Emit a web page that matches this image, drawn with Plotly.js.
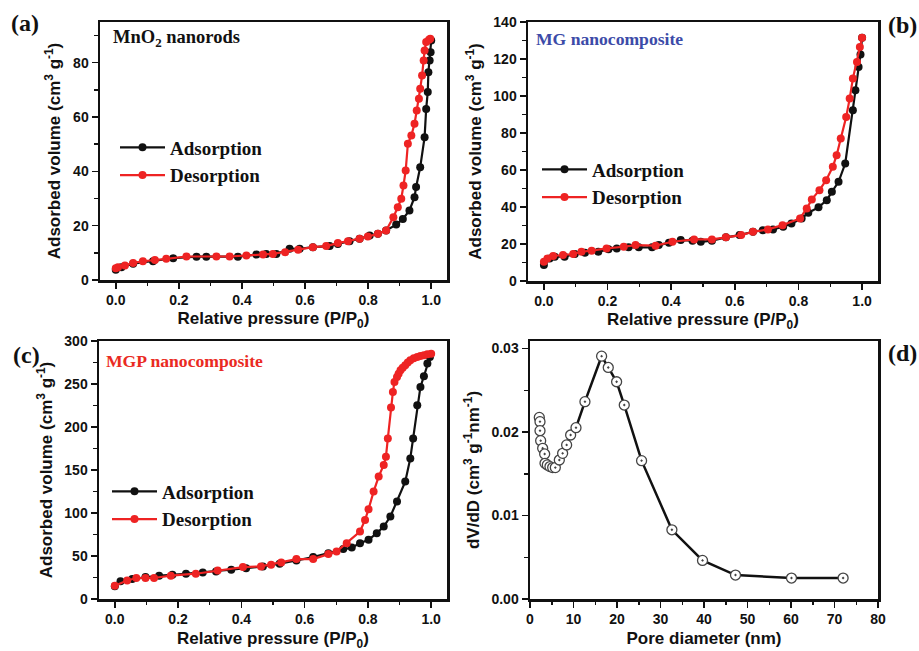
<!DOCTYPE html>
<html><head><meta charset="utf-8">
<script src="https://cdn.plot.ly/plotly-3.0.1.min.js"></script>
<style>html,body{margin:0;padding:0;background:#fff}#chart{width:919px;height:651px}</style>
</head><body><div id="chart"></div>
<script>
// Panel (a) MnO2 nanorods
const aAdsX = [0.0,0.018,0.055,0.118,0.182,0.256,0.287,0.387,0.446,0.477,0.509,0.551,0.583,0.625,0.678,0.704,0.741,0.773,0.805,0.831,0.857,0.889,0.910,0.931,0.947,0.952,0.965,0.979,0.984,0.989,0.991,0.995,0.998,1.0];
const aAdsY = [3.8,4.7,6.0,6.9,8.0,8.6,8.6,8.6,9.4,9.6,9.6,11.5,11.5,12.1,12.5,13.3,14.3,15.2,16.4,17.0,18.2,20.4,22.5,25.6,30.5,34.2,41.5,52.6,63.0,69.2,76.5,80.8,83.9,88.2];
const aDesX = [0.997,0.993,0.984,0.979,0.976,0.971,0.965,0.961,0.954,0.947,0.937,0.926,0.919,0.912,0.905,0.894,0.880,0.857,0.831,0.799,0.773,0.736,0.704,0.667,0.625,0.578,0.537,0.498,0.467,0.414,0.361,0.319,0.224,0.160,0.124,0.086,0.055,0.029,0.007,0.0];
const aDesY = [88.8,88.5,87.6,84.5,80.8,75.3,70.4,66.7,62.4,57.5,53.2,50.2,40.3,34.8,29.9,26.8,23.1,18.2,17.0,16.0,15.2,14.3,13.6,12.5,12.1,11.1,10.2,9.6,9.4,9.0,8.65,8.65,8.65,7.8,7.4,6.9,6.3,5.3,4.7,4.35];
// Panel (b) MG nanocomposite
const bAdsX = [0.0,0.018,0.034,0.065,0.097,0.129,0.171,0.203,0.229,0.266,0.298,0.340,0.361,0.393,0.430,0.467,0.493,0.528,0.572,0.615,0.657,0.688,0.720,0.752,0.778,0.810,0.831,0.863,0.889,0.905,0.926,0.947,0.971,0.979,0.989,0.995,1.0];
const bAdsY = [8.6,12.2,13.1,13.1,14.6,15.3,15.8,17.1,17.6,18.2,18.2,18.2,19.4,20.7,22.1,21.8,21.2,21.8,23.6,24.8,26.6,27.5,27.9,29.3,31.1,33.8,36.9,39.8,43.7,48.2,53.6,63.5,92.3,103.1,115.7,122.5,131.5];
const bDesX = [1.0,0.993,0.984,0.971,0.961,0.950,0.933,0.920,0.908,0.887,0.866,0.842,0.826,0.805,0.750,0.704,0.657,0.620,0.572,0.528,0.472,0.404,0.351,0.288,0.251,0.197,0.150,0.118,0.092,0.060,0.029,0.011,0.0];
const bDesY = [131.5,126.5,118.4,109.4,98.6,88.7,77.0,68.0,61.7,54.5,49.1,44.1,39.2,33.8,30.2,27.9,26.6,24.8,23.6,22.5,22.5,21.2,19.1,19.4,18.5,17.6,16.4,15.8,14.6,14.0,13.5,12.2,10.4];
// Panel (c) MGP nanocomposite
const cAdsX = [0.0,0.018,0.055,0.097,0.140,0.182,0.225,0.278,0.320,0.368,0.415,0.468,0.521,0.574,0.627,0.675,0.722,0.749,0.775,0.802,0.828,0.850,0.871,0.892,0.918,0.934,0.943,0.956,0.966,0.977,0.988,0.996];
const cAdsY = [14.7,20.5,23.2,25.5,27.1,28.2,29.4,30.9,32.1,34.0,35.9,37.9,41.0,44.8,48.7,53.3,58.0,59.9,64.9,68.8,76.5,84.3,95.9,113.3,136.5,163.5,186.7,225.4,246.6,259.0,273.7,281.4];
const cDesX = [1.0,0.988,0.977,0.966,0.956,0.945,0.934,0.926,0.918,0.910,0.903,0.897,0.892,0.884,0.879,0.873,0.863,0.857,0.850,0.834,0.818,0.802,0.791,0.775,0.733,0.701,0.675,0.627,0.574,0.526,0.494,0.462,0.405,0.325,0.256,0.177,0.124,0.097,0.068,0.039,0.0];
const cDesY = [285.3,284.5,283.3,282.5,281.4,279.8,277.5,275.0,271.7,269.0,265.9,262.0,258.2,252.4,240.8,222.7,186.7,165.4,155.8,142.3,124.9,104.4,92.0,78.5,64.9,55.3,52.2,46.4,46.4,42.5,39.8,37.9,37.1,33.2,29.4,27.1,24.4,24.4,24.4,21.6,15.5];
// Panel (d) pore size distribution
const dPoreX = [2.14,2.3,2.3,2.45,2.91,3.37,3.45,3.98,4.59,5.21,5.82,6.74,7.50,8.42,9.34,10.57,12.63,16.46,17.99,19.91,21.67,25.65,32.62,39.66,47.24,60.11,71.98];
const dPoreY = [0.02175,0.02124,0.02016,0.01896,0.01805,0.01737,0.01625,0.01606,0.01586,0.01574,0.01574,0.01665,0.01745,0.01845,0.01964,0.02052,0.02363,0.02908,0.02773,0.02602,0.02323,0.01657,0.00829,0.00462,0.00287,0.00251,0.00251];

const seriesNames = ['Adsorption','Desorption'];
const panelLabels = ['(a)','(b)','(c)','(d)'];
const sampleNames = ['MnO<sub>2</sub> nanorods','MG nanocomposite','MGP nanocomposite'];
const isoXTitle = 'Relative pressure (P/P<sub>0</sub>)';
const isoYTitle = 'Adsorbed volume (cm<sup>3</sup> g<sup>-1</sup>)';
const poreXTitle = 'Pore diameter (nm)';
const poreYTitle = 'dV/dD (cm<sup>3</sup> g<sup>-1</sup>nm<sup>-1</sup>)';

const BLACK = '#111111', RED = '#ee2323';
const W = 919, H = 651;
const px = v => v / W, py = v => 1 - v / H;

function iso(x, y, color, name, xa, ya, leg) {
  return {x, y, type: 'scatter', mode: 'lines+markers', name, xaxis: xa, yaxis: ya, legend: leg,
    line: {color, width: 2.2}, marker: {color, size: 8, symbol: 'circle'}};
}
const traces = [
  iso(aAdsX, aAdsY, BLACK, seriesNames[0], 'x', 'y', 'legend'),
  iso(aDesX, aDesY, RED, seriesNames[1], 'x', 'y', 'legend'),
  iso(bAdsX, bAdsY, BLACK, seriesNames[0], 'x2', 'y2', 'legend2'),
  iso(bDesX, bDesY, RED, seriesNames[1], 'x2', 'y2', 'legend2'),
  iso(cAdsX, cAdsY, BLACK, seriesNames[0], 'x3', 'y3', 'legend3'),
  iso(cDesX, cDesY, RED, seriesNames[1], 'x3', 'y3', 'legend3'),
  {x: dPoreX, y: dPoreY, type: 'scatter', mode: 'lines+markers', xaxis: 'x4', yaxis: 'y4', showlegend: false,
    line: {color: BLACK, width: 2.5},
    marker: {symbol: 'circle-dot', size: 10, color: '#ffffff', line: {color: '#444444', width: 1.3}}}
];

const tickFont = {family: 'Liberation Sans, Arial, sans-serif', size: 14, weight: 'bold', color: '#111'};
const titleFont = {family: 'Liberation Sans, Arial, sans-serif', size: 17, weight: 'bold', color: '#111'};
function axis(domain, range, dtick, minorDtick, fmt, title, anchor, standoff) {
  return {domain, range, dtick, tick0: 0, tickformat: fmt, anchor,
    showline: true, linewidth: 2.5, linecolor: '#111', mirror: true,
    ticks: 'outside', ticklen: 6, tickwidth: 1.5, tickcolor: '#111',
    minor: {dtick: minorDtick, ticks: 'outside', ticklen: 3.5, tickwidth: 1.5, tickcolor: '#111'},
    showgrid: false, zeroline: false, tickfont: tickFont,
    title: {text: title, font: titleFont, standoff}, automargin: false, fixedrange: true};
}
const legendStyle = {font: {family: 'Liberation Serif, Times New Roman, serif', size: 19, weight: 'bold', color: '#111'},
  bgcolor: 'rgba(0,0,0,0)', borderwidth: 0, itemwidth: 45, xanchor: 'left', yanchor: 'top', tracegroupgap: 0};

const layout = {
  width: W, height: H, margin: {l: 0, r: 0, t: 0, b: 0},
  paper_bgcolor: '#fff', plot_bgcolor: '#fff',
  xaxis: axis([px(100), px(447)], [-0.05, 1.05], 0.2, 0.1, '.1f', isoXTitle, 'y', 5),
  yaxis: axis([py(280), py(22)], [0, 95], 20, 10, '', isoYTitle, 'x', 8),
  xaxis2: axis([px(528), px(878)], [-0.05, 1.05], 0.2, 0.1, '.1f', isoXTitle, 'y2', 5),
  yaxis2: axis([py(281), py(22)], [0, 140], 20, 10, '', isoYTitle, 'x2', 8),
  xaxis3: axis([px(99), px(447)], [-0.05, 1.05], 0.2, 0.1, '.1f', isoXTitle, 'y3', 18),
  yaxis3: axis([py(599), py(341)], [0, 300], 50, 25, '', isoYTitle, 'x3', 8),
  xaxis4: axis([px(530), px(878)], [0, 80], 10, 5, '', poreXTitle, 'y4', 6),
  yaxis4: axis([py(599), py(341)], [0, 0.0309], 0.01, 0.005, '.2f', poreYTitle, 'x4', 8),
  legend: Object.assign({x: px(115), y: py(128.5)}, legendStyle),
  legend2: Object.assign({x: px(537), y: py(150.5)}, legendStyle),
  legend3: Object.assign({x: px(107), y: py(472.5)}, legendStyle),
  annotations: [
    {text: '<b>' + panelLabels[0] + '</b>', x: px(25), y: py(23)},
    {text: '<b>' + panelLabels[1] + '</b>', x: px(902), y: py(25)},
    {text: '<b>' + panelLabels[2] + '</b>', x: px(26), y: py(355)},
    {text: '<b>' + panelLabels[3] + '</b>', x: px(902), y: py(353)}
  ].map(a => Object.assign(a, {xref: 'paper', yref: 'paper', showarrow: false, xanchor: 'center', yanchor: 'middle',
      font: {family: 'Liberation Serif, Times New Roman, serif', size: 24, color: '#111'}})).concat([
    {text: '<b>' + sampleNames[0] + '</b>', x: px(111), y: py(39), color: '#111', size: 18.5},
    {text: '<b>' + sampleNames[1] + '</b>', x: px(534), y: py(39), color: '#3c4ba8', size: 17.6},
    {text: '<b>' + sampleNames[2] + '</b>', x: px(104), y: py(361), color: '#ea2a22', size: 17.6}
  ].map(a => ({text: a.text, x: a.x, y: a.y, xref: 'paper', yref: 'paper', showarrow: false, xanchor: 'left', yanchor: 'middle',
      font: {family: 'Liberation Serif, Times New Roman, serif', size: a.size, color: a.color}})))
};

Plotly.newPlot('chart', traces, layout, {staticPlot: true, displayModeBar: false});
</script>
</body></html>
